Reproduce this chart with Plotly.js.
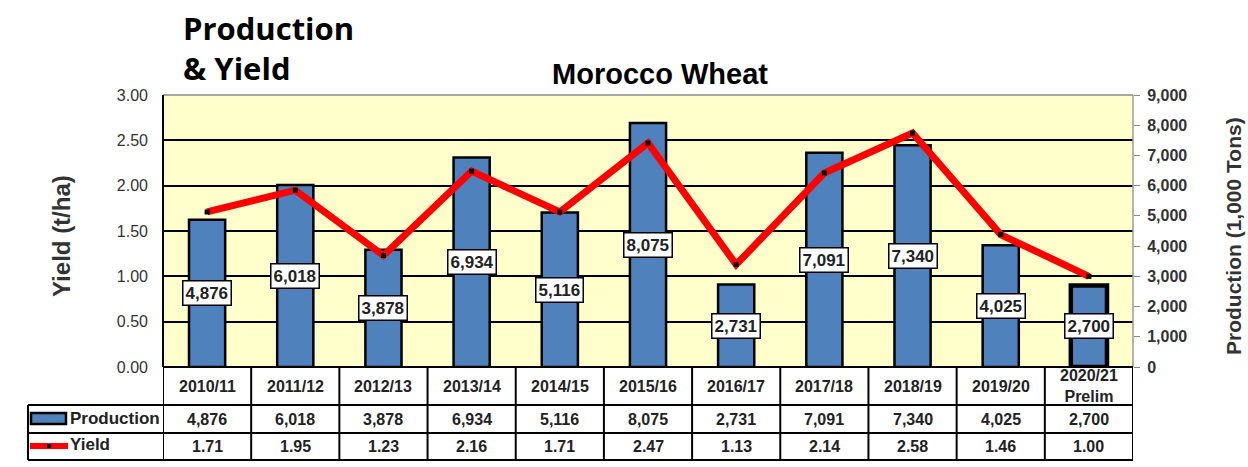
<!DOCTYPE html>
<html>
<head>
<meta charset="utf-8">
<script src="https://cdn.plot.ly/plotly-3.0.1.min.js"></script>
<style>html,body{margin:0;padding:0;background:#fff;}#chart{width:1248px;height:467px;}</style>
</head>
<body>
<div id="chart"></div>
<script>
const categories = ["2010/11","2011/12","2012/13","2013/14","2014/15","2015/16","2016/17","2017/18","2018/19","2019/20","2020/21"];
const categoryLabels = ["2010/11","2011/12","2012/13","2013/14","2014/15","2015/16","2016/17","2017/18","2018/19","2019/20","2020/21<br>Prelim"];
const production = [4876, 6018, 3878, 6934, 5116, 8075, 2731, 7091, 7340, 4025, 2700];
const yieldVals = [1.71, 1.95, 1.23, 2.16, 1.71, 2.47, 1.13, 2.14, 2.58, 1.46, 1.00];
const yieldTicks = [0, 0.5, 1, 1.5, 2, 2.5, 3];
const prodTicks = [0, 1000, 2000, 3000, 4000, 5000, 6000, 7000, 8000, 9000];

const W = 1248, H = 467;
const L = 163, R = 1133, T = 95, B = 367;
const pw = R - L, ph = B - T;
const px = v => (v - L) / pw;
const py = v => (B - v) / ph;

const fmt = n => n.toLocaleString('en-US');
const blue = '#4F81BD';
const txt = '#222';
const ARIAL = 'Arial, Liberation Sans, sans-serif';
const tableFont = {family: ARIAL, size: 16, color: txt, weight: 'bold'};
const catFont = {family: ARIAL, size: 16, color: txt, weight: 'bold'};

const traces = [
  {
    type: 'bar', x: categories, y: production, yaxis: 'y', width: 0.41,
    marker: {color: blue, line: {color: '#000', width: production.map((v, i) => i === production.length - 1 ? 4.5 : 2.5)}},
    hoverinfo: 'skip', showlegend: false
  },
  {
    type: 'scatter', mode: 'lines+markers', x: categories, y: yieldVals, yaxis: 'y2',
    line: {color: '#FF0000', width: 7},
    marker: {symbol: 'square', size: 5, color: '#000'},
    hoverinfo: 'skip', showlegend: false
  }
];

const shapes = [];
const annotations = [];
const tableRows = [405, 433, 460];

// plot frame
shapes.push({type: 'line', xref: 'paper', yref: 'paper', x0: 0, x1: 1, y0: 1, y1: 1, line: {color: '#888', width: 1.5}});
shapes.push({type: 'line', xref: 'paper', yref: 'paper', x0: 1, x1: 1, y0: 0, y1: 1, line: {color: '#999', width: 1.5}});
shapes.push({type: 'line', xref: 'paper', yref: 'paper', x0: 0, x1: 0, y0: 0, y1: 1, line: {color: '#000', width: 2}});

// table
shapes.push({type: 'line', xref: 'paper', yref: 'paper', x0: 0, x1: 1, y0: 0, y1: 0, line: {color: '#000', width: 2}});
tableRows.forEach(r => {
  shapes.push({type: 'line', xref: 'paper', yref: 'paper', x0: px(28), x1: 1, y0: py(r), y1: py(r), line: {color: '#000', width: 2}});
});
for (let i = 0; i <= categories.length; i++) {
  shapes.push({type: 'line', xref: 'x', yref: 'paper', x0: i - 0.5, x1: i - 0.5, y0: 0, y1: py(460), line: {color: '#000', width: 2}});
}
shapes.push({type: 'line', xref: 'paper', yref: 'paper', x0: px(28), x1: px(28), y0: py(405), y1: py(460), line: {color: '#000', width: 2}});

// legend symbols in table
shapes.push({type: 'rect', xref: 'paper', yref: 'paper', x0: px(31), x1: px(66), y0: py(413), y1: py(424), fillcolor: blue, line: {color: '#000', width: 2.5}});
shapes.push({type: 'line', xref: 'paper', yref: 'paper', x0: px(30), x1: px(68), y0: py(446), y1: py(446), line: {color: '#FF0000', width: 6}});
shapes.push({type: 'rect', xref: 'paper', yref: 'paper', x0: px(47), x1: px(51), y0: py(444), y1: py(448), fillcolor: '#000', line: {width: 0}});

annotations.push({xref: 'paper', yref: 'paper', x: px(68), y: py(418), xanchor: 'left', yanchor: 'middle', showarrow: false, text: 'Production', font: {family: ARIAL, size: 17, color: txt, weight: 'bold'}});
annotations.push({xref: 'paper', yref: 'paper', x: px(68), y: py(444), xanchor: 'left', yanchor: 'middle', showarrow: false, text: 'Yield', font: {family: ARIAL, size: 17, color: txt, weight: 'bold'}});

categories.forEach((c, i) => {
  annotations.push({xref: 'x', yref: 'paper', x: i, y: py(386), yanchor: 'middle', showarrow: false, text: categoryLabels[i], font: catFont});
  annotations.push({xref: 'x', yref: 'paper', x: i, y: py(419), yanchor: 'middle', showarrow: false, text: fmt(production[i]), font: tableFont});
  annotations.push({xref: 'x', yref: 'paper', x: i, y: py(446.5), yanchor: 'middle', showarrow: false, text: yieldVals[i].toFixed(2), font: tableFont});
  annotations.push({xref: 'x', yref: 'y', x: i, y: production[i] / 2, yanchor: 'middle', showarrow: false, text: fmt(production[i]),
    bgcolor: '#fff', bordercolor: '#000', borderwidth: 1.5, borderpad: 2,
    font: {family: ARIAL, size: 17, color: txt, weight: 'bold'}});
});

// titles
annotations.push({xref: 'paper', yref: 'paper', x: px(181), y: py(5), xanchor: 'left', yanchor: 'top', align: 'left', showarrow: false,
  text: 'Production<br>& Yield', font: {family: 'Open Sans, Noto Sans, sans-serif', size: 31, color: '#000', weight: 'bold'}});
annotations.push({xref: 'paper', yref: 'paper', x: px(62), y: py(236), xanchor: 'center', yanchor: 'middle', textangle: -90, showarrow: false,
  text: 'Yield (t/ha)', font: {family: ARIAL, size: 24, color: '#333', weight: 'bold'}});
annotations.push({xref: 'paper', yref: 'paper', x: px(1234), y: py(236), xanchor: 'center', yanchor: 'middle', textangle: -90, showarrow: false,
  text: 'Production (1,000 Tons)', font: {family: ARIAL, size: 21, color: '#333', weight: 'bold'}});

const layout = {
  width: W, height: H,
  margin: {l: L, r: W - R, t: T, b: H - B, pad: 0},
  paper_bgcolor: '#fff',
  plot_bgcolor: '#FFFFCC',
  title: {text: 'Morocco Wheat', x: 660 / W, xanchor: 'center', y: 1 - 74 / H, yanchor: 'middle',
    font: {family: ARIAL, size: 29, color: '#000', weight: 'bold'}},
  xaxis: {type: 'category', categoryorder: 'array', categoryarray: categories, range: [-0.5, categories.length - 0.5],
    showticklabels: false, showgrid: false, zeroline: false, ticks: '', showline: false, fixedrange: true},
  yaxis: {side: 'right', range: [0, 9000], tickvals: prodTicks, ticktext: prodTicks.map(fmt),
    showgrid: false, zeroline: false, showline: false, ticks: 'outside', ticklen: 6, tickcolor: '#888', tickwidth: 1,
    ticklabelstandoff: 4,
    tickfont: {family: ARIAL, size: 16, color: '#333', weight: 'bold'}, fixedrange: true},
  yaxis2: {side: 'left', overlaying: 'y', range: [0, 3], tickvals: yieldTicks, ticktext: yieldTicks.map(v => v.toFixed(2)),
    showgrid: true, gridcolor: '#000', gridwidth: 2, zeroline: false, showline: false, ticks: '', ticklabelstandoff: 14,
    tickfont: {family: ARIAL, size: 16, color: '#333'}, fixedrange: true},
  shapes: shapes,
  annotations: annotations,
  showlegend: false
};

Plotly.newPlot('chart', traces, layout, {staticPlot: true, displayModeBar: false});
</script>
</body>
</html>
